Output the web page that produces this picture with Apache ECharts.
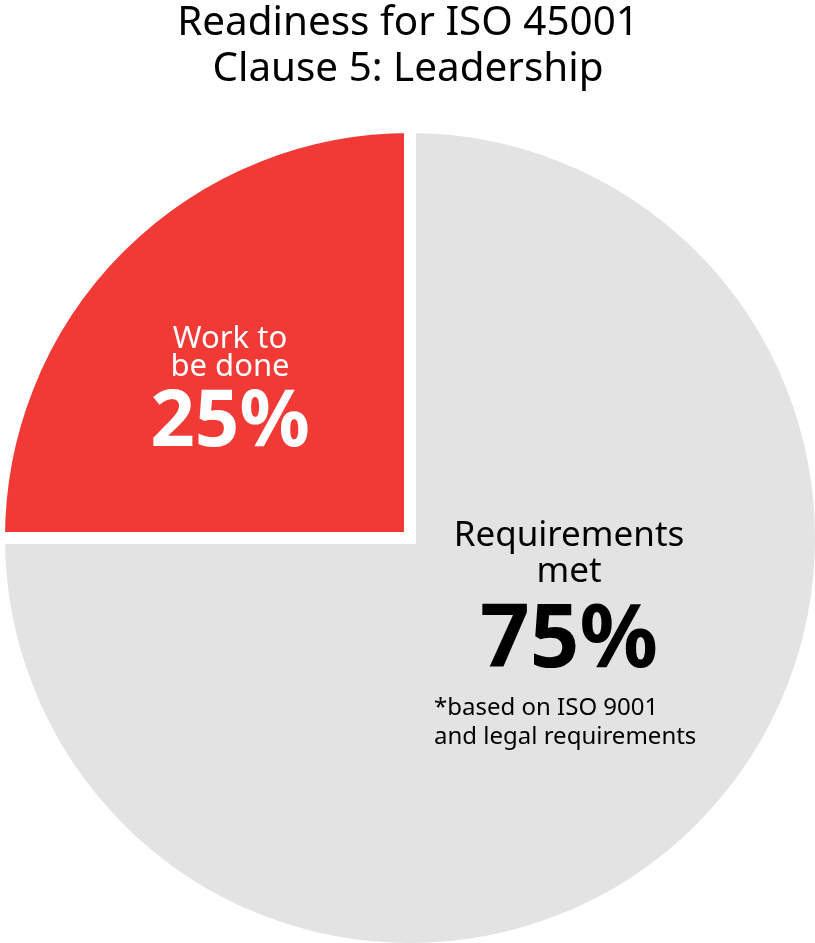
<!DOCTYPE html>
<html>
<head>
<meta charset="utf-8">
<script src="https://cdn.jsdelivr.net/npm/echarts@6/dist/echarts.min.js"></script>
<style>
  html, body { margin: 0; padding: 0; background: #ffffff; }
  #chart { width: 815px; height: 943px; }
</style>
</head>
<body>
<div id="chart"></div>
<script>
// Readiness figures for ISO 45001, Clause 5
const categories = ['Requirements met', 'Work to be done'];
const values = [75, 25];
const sliceColors = ['#e3e3e3', '#f13a35'];
const titleLines = ['Readiness for ISO 45001', 'Clause 5: Leadership'];
const metLines = ['Requirements', 'met'];
const todoLines = ['Work to', 'be done'];
const footnoteLines = ['*based on ISO 9001', 'and legal requirements'];

const FONT = '"Noto Sans", "Open Sans", sans-serif';

const chart = echarts.init(document.getElementById('chart'), null, { renderer: 'canvas' });

function textEl(x, y, text, size, weight, color, lineHeight, align) {
  return {
    type: 'text',
    x: x,
    y: y,
    silent: true,
    z: 10,
    style: {
      text: text,
      fontFamily: FONT,
      fontSize: size,
      fontWeight: weight,
      fill: color,
      lineHeight: lineHeight,
      align: align || 'center',
      verticalAlign: 'middle'
    }
  };
}

const option = {
  animation: false,
  backgroundColor: '#ffffff',
  series: [{
    type: 'pie',
    center: [410, 538],
    radius: 411,
    startAngle: 90,
    clockwise: true,
    silent: true,
    label: { show: false },
    labelLine: { show: false },
    emphasis: { disabled: true },
    itemStyle: {
      borderColor: '#ffffff',
      borderWidth: 12,
      borderJoin: 'miter',
      borderMiterLimit: 10,
      borderRadius: 0
    },
    data: categories.map((name, i) => ({
      name: name,
      value: values[i],
      itemStyle: { color: sliceColors[i] }
    }))
  }],
  graphic: [
    textEl(408, 46.5, titleLines.join('\n'), 40.4, 'normal', '#000000', 46),
    textEl(230, 353.4, todoLines.join('\n'), 31, 'normal', '#ffffff', 28),
    textEl(230, 423.8, values[1] + '%', 78, 'bold', '#ffffff', 80),
    textEl(569, 554.2, metLines.join('\n'), 35, 'normal', '#000000', 36),
    textEl(569, 642, values[0] + '%', 87, 'bold', '#000000', 90),
    textEl(434, 722.7, footnoteLines.join('\n'), 24, 'normal', '#000000', 28.3, 'left')
  ]
};

chart.setOption(option);
</script>
</body>
</html>
